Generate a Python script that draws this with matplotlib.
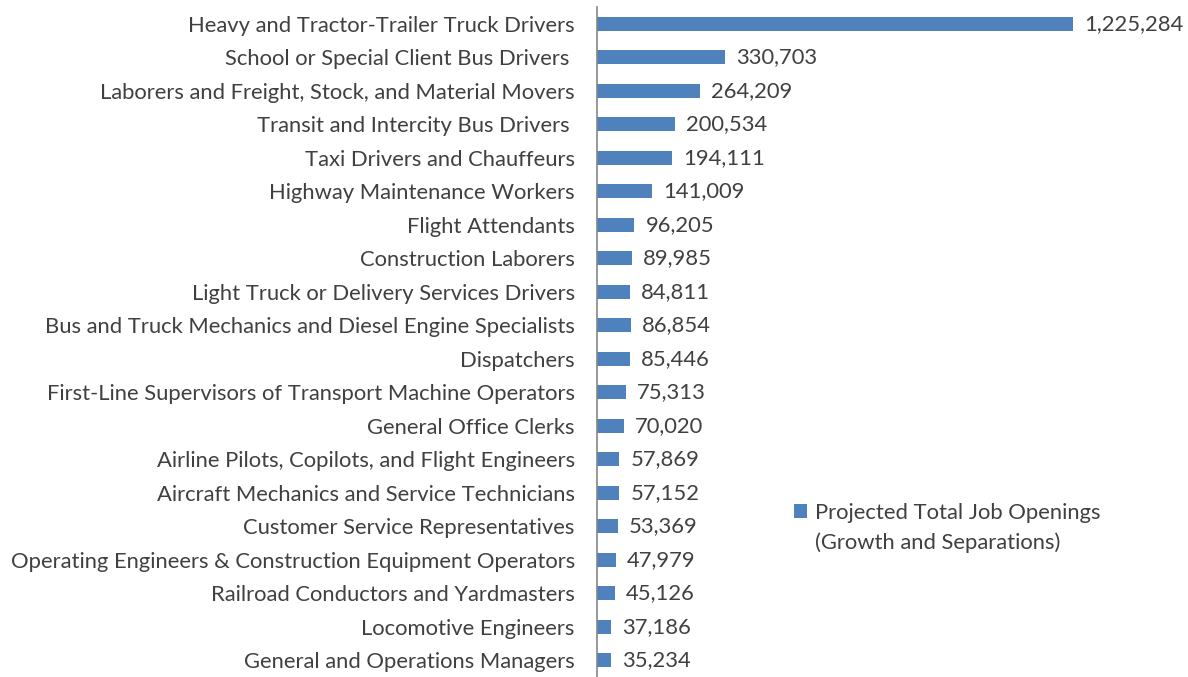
import matplotlib.pyplot as plt
from matplotlib.patches import Patch

# =====================
# DATA
# =====================
occupations = [
    "Heavy and Tractor-Trailer Truck Drivers",
    "School or Special Client Bus Drivers ",
    "Laborers and Freight, Stock, and Material Movers",
    "Transit and Intercity Bus Drivers ",
    "Taxi Drivers and Chauffeurs",
    "Highway Maintenance Workers",
    "Flight Attendants",
    "Construction Laborers",
    "Light Truck or Delivery Services Drivers",
    "Bus and Truck Mechanics and Diesel Engine Specialists",
    "Dispatchers",
    "First-Line Supervisors of Transport Machine Operators",
    "General Office Clerks",
    "Airline Pilots, Copilots, and Flight Engineers",
    "Aircraft Mechanics and Service Technicians",
    "Customer Service Representatives",
    "Operating Engineers & Construction Equipment Operators",
    "Railroad Conductors and Yardmasters",
    "Locomotive Engineers",
    "General and Operations Managers",
]
openings = [1225284, 330703, 264209, 200534, 194111, 141009, 96205, 89985,
            84811, 86854, 85446, 75313, 70020, 57869, 57152, 53369,
            47979, 45126, 37186, 35234]

legend_lines = ["Projected Total Job Openings", "(Growth and Separations)"]

# =====================
# STYLE
# =====================
BAR_COLOR = "#4F81BD"
TEXT_COLOR = "#404040"
FS = 15.8
plt.rcParams['font.family'] = ['Lato', 'DejaVu Sans']

fig = plt.figure(figsize=(11.88, 6.77), dpi=100)
ax = fig.add_axes([597 / 1188, 0, 591 / 1188, 670 / 677])

y = list(range(len(occupations)))
ax.barh(y, openings, height=0.42, color=BAR_COLOR)
ax.set_ylim(len(occupations) - 0.5, -0.5)
ax.set_xlim(0, 1225284 * 591 / 476)

ax.set_yticks(y)
ax.set_yticklabels(occupations, fontsize=FS, color=TEXT_COLOR)
ax.tick_params(axis='y', length=0, pad=16)
ax.set_xticks([])

for s in ["top", "right", "bottom"]:
    ax.spines[s].set_visible(False)
ax.spines["left"].set_color("#868686")
ax.spines["left"].set_linewidth(1.2)

for yi, v in zip(y, openings):
    ax.annotate(f"{v:,}", (v, yi), xytext=(8, 0), textcoords="offset points",
                va="center", ha="left", fontsize=FS, color=TEXT_COLOR)

# legend: square only on the first line, second line wraps under the text
handles = [Patch(facecolor=BAR_COLOR, edgecolor="none"),
           Patch(facecolor="none", edgecolor="none")]
fig.legend(handles, legend_lines, loc="upper left",
           bbox_to_anchor=(785 / 1188, 1 - 494 / 677), frameon=False,
           fontsize=FS, labelcolor=TEXT_COLOR, handlelength=0.6,
           handleheight=0.6, handletextpad=0.35, labelspacing=0.45,
           borderaxespad=0)

fig.savefig("out.png", dpi=100)
